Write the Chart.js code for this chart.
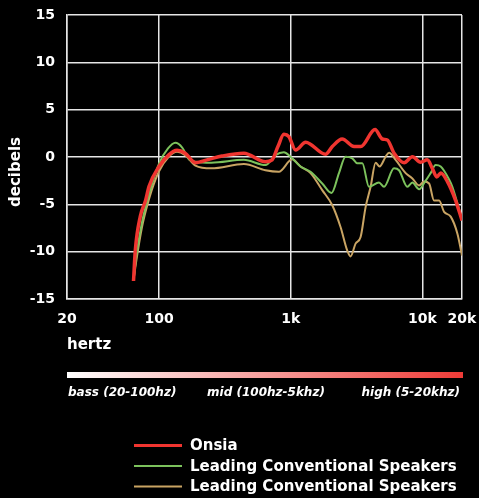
<!DOCTYPE html>
<html>
<head>
<meta charset="utf-8">
<script src="https://cdn.jsdelivr.net/npm/chart.js@4"></script>
<style>
  html, body { margin: 0; padding: 0; background: #000; }
  #wrap { width: 479px; height: 498px; position: relative; }
</style>
</head>
<body>
<div id="wrap"><canvas id="freqChart" width="479" height="498"></canvas></div>
<script>
// Data (Hz, dB)
const xTicks = [20, 100, 1000, 10000, 20000];
const xTickLabels = ['20', '100', '1k', '10k', '20k'];
const yTicks = [-15, -10, -5, 0, 5, 10, 15];

const onsiaHz = [64, 66, 72, 79, 84, 100, 118, 137, 158, 189, 239, 301, 441, 643, 723, 800, 888, 969, 1090, 1300, 1840, 2070, 2460, 3030, 3400, 4370, 4970, 5420, 6100, 7260, 8400, 9700, 10900, 11900, 12850, 13800, 15500, 17900, 20000];
const onsiaDb = [-13.1, -9.9, -6.3, -4.6, -3.1, -1.0, 0.2, 0.7, 0.4, -0.6, -0.25, 0.1, 0.4, -0.5, -0.3, 1.1, 2.4, 2.15, 0.74, 1.56, 0.28, 1.1, 1.9, 1.1, 1.1, 2.9, 1.9, 1.8, 0.4, -0.6, 0.03, -0.56, -0.3, -1.2, -2.1, -1.7, -2.6, -4.6, -6.7];

const greenHz = [64, 68, 74, 80, 88, 100, 117, 133, 150, 170, 189, 250, 441, 643, 766, 888, 996, 1187, 1415, 1736, 2042, 2326, 2611, 2936, 3204, 3498, 3933, 4685, 5113, 6093, 6650, 7690, 8395, 9440, 10480, 11560, 12620, 13780, 16000, 16900, 20000];
const greenDb = [-13, -10, -7, -5, -3, -0.7, 0.9, 1.5, 1.0, -0.3, -0.5, -0.6, -0.3, -0.85, 0.2, 0.5, 0.03, -1.0, -1.56, -2.8, -3.8, -1.7, 0.03, -0.14, -0.67, -0.67, -3.15, -2.7, -3.15, -1.2, -1.4, -3.15, -2.7, -3.4, -2.6, -1.7, -0.85, -1.0, -2.4, -3.15, -6.6];

const tanHz = [64, 68, 74, 80, 88, 100, 118, 137, 158, 189, 250, 441, 643, 813, 1026, 1187, 1415, 1736, 2069, 2391, 2690, 2850, 3110, 3396, 3706, 4045, 4415, 4732, 5260, 5583, 6266, 7467, 8395, 9440, 10300, 11250, 12270, 13400, 14620, 16420, 18460, 20000];
const tanDb = [-13, -10.5, -7.5, -5.5, -3.5, -1.5, 0, 0.55, 0.2, -0.9, -1.2, -0.74, -1.4, -1.56, -0.25, -1.0, -1.7, -3.5, -5.1, -7.4, -9.9, -10.5, -9.15, -8.45, -5.3, -3.15, -0.6, -1.0, 0.03, 0.46, -0.3, -1.7, -2.26, -3.0, -2.6, -2.8, -4.6, -4.6, -5.8, -6.3, -8.1, -10.4];

const seriesNames = ['Onsia', 'Leading Conventional Speakers', 'Leading Conventional Speakers'];
const seriesColors = ['#f03530', '#7cc25c', '#c9a463'];
const seriesWidths = [3.5, 2, 2];

const bandLabels = ['bass (20-100hz)', 'mid (100hz-5khz)', 'high (5-20khz)'];

const FONT = '"DejaVu Sans", sans-serif';

function toPoints(hz, db) {
    return hz.map((f, i) => ({ x: f, y: db[i] }));
}

// Plugin untuk teks tambahan, bar gradien dan legenda
const extrasPlugin = {
    id: 'extras',
    afterDraw(chart) {
        const ctx = chart.ctx;
        ctx.save();
        ctx.fillStyle = '#fff';

        // judul sumbu y
        ctx.save();
        ctx.translate(16, 172);
        ctx.rotate(-Math.PI / 2);
        ctx.font = 'bold 15px ' + FONT;
        ctx.textAlign = 'center';
        ctx.textBaseline = 'middle';
        ctx.fillText('decibels', 0, 0);
        ctx.restore();

        // judul sumbu x
        ctx.font = 'bold 15px ' + FONT;
        ctx.textAlign = 'left';
        ctx.textBaseline = 'middle';
        ctx.fillText('hertz', 67, 345);

        // bar gradien
        const grad = ctx.createLinearGradient(67, 0, 463, 0);
        grad.addColorStop(0, '#ffffff');
        grad.addColorStop(1, '#ee3b37');
        ctx.fillStyle = grad;
        ctx.fillRect(67, 372, 396, 6);

        // label rentang
        ctx.fillStyle = '#fff';
        ctx.font = 'italic bold 12px ' + FONT;
        ctx.textAlign = 'left';
        ctx.fillText(bandLabels[0], 68, 393);
        ctx.textAlign = 'center';
        ctx.fillText(bandLabels[1], 266, 393);
        ctx.textAlign = 'right';
        ctx.fillText(bandLabels[2], 460, 393);

        // legenda
        const legendY = [445.5, 466, 486.5];
        ctx.font = 'bold 15px ' + FONT;
        ctx.textAlign = 'left';
        seriesNames.forEach((name, i) => {
            ctx.strokeStyle = seriesColors[i];
            ctx.lineWidth = i === 0 ? 3 : 2;
            ctx.beginPath();
            ctx.moveTo(134, legendY[i]);
            ctx.lineTo(182, legendY[i]);
            ctx.stroke();
            ctx.fillStyle = '#fff';
            ctx.fillText(name, 190, legendY[i] + 1);
        });
        ctx.restore();
    }
};

const ctx = document.getElementById('freqChart').getContext('2d');
const allSeries = [[onsiaHz, onsiaDb], [greenHz, greenDb], [tanHz, tanDb]];

const freqChart = new Chart(ctx, {
    type: 'line',
    data: {
        datasets: allSeries.map((s, i) => ({
            label: seriesNames[i],
            data: toPoints(s[0], s[1]),
            borderColor: seriesColors[i],
            borderWidth: seriesWidths[i],
            pointRadius: 0,
            fill: false,
            cubicInterpolationMode: 'monotone'
        }))
    },
    options: {
        responsive: false,
        animation: false,
        layout: { padding: { top: 15, right: 17, left: 0, bottom: 0 } },
        plugins: {
            legend: { display: false },
            tooltip: { enabled: false }
        },
        scales: {
            x: {
                type: 'logarithmic',
                min: 20,
                max: 20000,
                afterBuildTicks: (scale) => {
                    scale.ticks = xTicks.map(v => ({ value: v }));
                },
                afterFit: (scale) => {
                    scale.height = 199;
                    scale.paddingLeft = 0;
                    scale.paddingRight = 0;
                },
                ticks: {
                    color: '#fff',
                    font: { family: FONT, size: 14, weight: 'bold' },
                    padding: 12,
                    autoSkip: false,
                    maxRotation: 0,
                    callback: (value) => {
                        const idx = xTicks.indexOf(value);
                        return idx >= 0 ? xTickLabels[idx] : '';
                    }
                },
                grid: { color: '#e6e6e6', lineWidth: 1.5, drawTicks: false },
                border: { color: '#e6e6e6', width: 1.5 }
            },
            y: {
                min: -15,
                max: 15,
                afterBuildTicks: (scale) => {
                    scale.ticks = yTicks.map(v => ({ value: v }));
                },
                afterFit: (scale) => {
                    scale.width = 67;
                    scale.paddingTop = 0;
                    scale.paddingBottom = 0;
                },
                ticks: {
                    color: '#fff',
                    font: { family: FONT, size: 14, weight: 'bold' },
                    padding: 12
                },
                grid: { color: '#e6e6e6', lineWidth: 1.5, drawTicks: false },
                border: { color: '#e6e6e6', width: 1.5 }
            }
        }
    },
    plugins: [extrasPlugin]
});
</script>
</body>
</html>
